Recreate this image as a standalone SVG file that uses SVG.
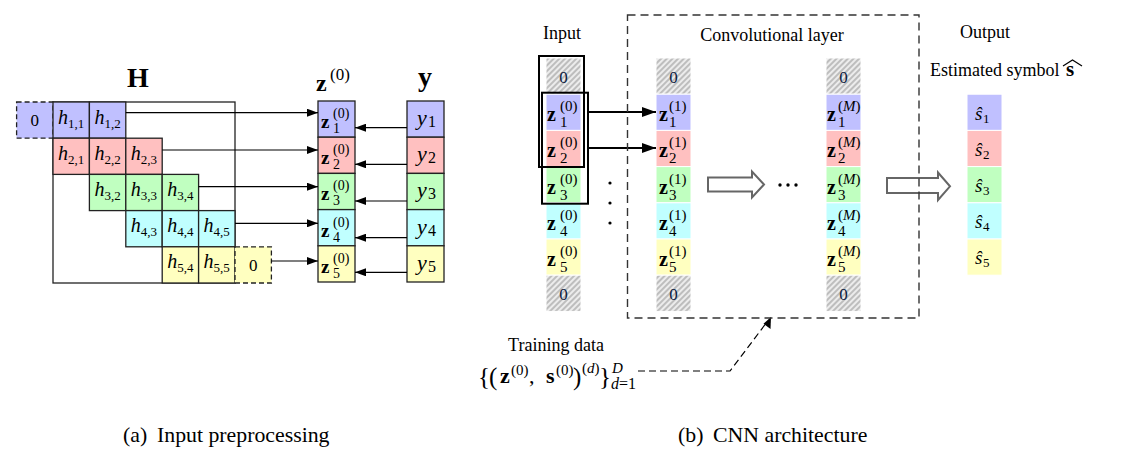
<svg xmlns="http://www.w3.org/2000/svg" width="1128" height="460" viewBox="0 0 1128 460">
<defs>
<style>
.t{font-family:"Liberation Serif","Times New Roman",serif;fill:#000}
.i{font-style:italic}
.b{font-weight:bold}
.cell{stroke:#222;stroke-width:1.3}
.dash{stroke:#222;stroke-width:1.3;stroke-dasharray:5 3}
.rc{stroke:#fff;stroke-width:1}
.c1{fill:#c0c0ff}.c2{fill:#ffc0c0}.c3{fill:#c0ffc0}.c4{fill:#c0ffff}.c5{fill:#ffffc0}
.hz{fill:url(#hatch)}
.h{font-size:20px;font-style:italic}
.sb{font-size:13px}
.zl{font-size:19px;font-weight:bold}
.zs{font-size:14px}
.zr{font-size:20px;font-weight:bold}
.zrs{font-size:15px}
.zero{font-size:17px;fill:#0a1a40}
.ar{stroke:#000;stroke-width:1.2;fill:none}
.arb{stroke:#000;stroke-width:2.2;fill:none}
.hol{fill:#fff;stroke:#666;stroke-width:2}
.lbl{font-size:18px}
.cap{font-size:21.8px}
</style>
<pattern id="hatch" width="4" height="4" patternUnits="userSpaceOnUse" patternTransform="rotate(45)">
<rect width="4" height="4" fill="#ececec"/>
<line x1="1" y1="0" x2="1" y2="4" stroke="#aaa" stroke-width="1.4"/>
</pattern>
<marker id="ah" markerWidth="11" markerHeight="8" refX="11" refY="4" orient="auto" markerUnits="userSpaceOnUse">
<path d="M0,0 L11,4 L0,8 z" fill="#000"/>
</marker>
<marker id="ahb" markerWidth="14" markerHeight="10" refX="14" refY="5" orient="auto" markerUnits="userSpaceOnUse">
<path d="M0,0 L14,5 L0,10 z" fill="#000"/>
</marker>
</defs>
<rect width="1128" height="460" fill="#fff"/>

<!-- ============ (a) Input preprocessing ============ -->
<g id="label-H"><text class="t b" x="138" y="87" font-size="28" text-anchor="middle">H</text></g>
<g id="label-z0"><text class="t b" x="316" y="91" font-size="24">z</text><text class="t" x="330" y="80" font-size="17">(0)</text></g>
<g id="label-y"><text class="t b" x="425" y="86" font-size="28" text-anchor="middle">y</text></g>

<g id="matrix-H">
<rect x="53" y="102" width="182" height="181" fill="none" class="cell"/>
<rect x="16.6" y="102" width="36.4" height="36.2" class="c1 dash"/>
<text class="t" x="34.8" y="126" font-size="17" text-anchor="middle">0</text>
<rect x="53" y="102" width="36.4" height="36.2" class="c1 cell"/>
<rect x="89.4" y="102" width="36.4" height="36.2" class="c1 cell"/>
<text class="t h" x="58" y="123.5">h</text><text class="t sb" x="68" y="127.5">1,1</text>
<text class="t h" x="94.4" y="123.5">h</text><text class="t sb" x="104.4" y="127.5">1,2</text>
<rect x="53" y="138.2" width="36.4" height="36.2" class="c2 cell"/>
<rect x="89.4" y="138.2" width="36.4" height="36.2" class="c2 cell"/>
<rect x="125.8" y="138.2" width="36.4" height="36.2" class="c2 cell"/>
<text class="t h" x="58" y="159.7">h</text><text class="t sb" x="68" y="163.7">2,1</text>
<text class="t h" x="94.4" y="159.7">h</text><text class="t sb" x="104.4" y="163.7">2,2</text>
<text class="t h" x="130.8" y="159.7">h</text><text class="t sb" x="140.8" y="163.7">2,3</text>
<rect x="89.4" y="174.4" width="36.4" height="36.2" class="c3 cell"/>
<rect x="125.8" y="174.4" width="36.4" height="36.2" class="c3 cell"/>
<rect x="162.2" y="174.4" width="36.4" height="36.2" class="c3 cell"/>
<text class="t h" x="94.4" y="195.9">h</text><text class="t sb" x="104.4" y="199.9">3,2</text>
<text class="t h" x="130.8" y="195.9">h</text><text class="t sb" x="140.8" y="199.9">3,3</text>
<text class="t h" x="167.2" y="195.9">h</text><text class="t sb" x="177.2" y="199.9">3,4</text>
<rect x="125.8" y="210.6" width="36.4" height="36.2" class="c4 cell"/>
<rect x="162.2" y="210.6" width="36.4" height="36.2" class="c4 cell"/>
<rect x="198.6" y="210.6" width="36.4" height="36.2" class="c4 cell"/>
<text class="t h" x="130.8" y="232.1">h</text><text class="t sb" x="140.8" y="236.1">4,3</text>
<text class="t h" x="167.2" y="232.1">h</text><text class="t sb" x="177.2" y="236.1">4,4</text>
<text class="t h" x="203.6" y="232.1">h</text><text class="t sb" x="213.6" y="236.1">4,5</text>
<rect x="162.2" y="246.8" width="36.4" height="36.2" class="c5 cell"/>
<rect x="198.6" y="246.8" width="36.4" height="36.2" class="c5 cell"/>
<rect x="235" y="246.8" width="36.4" height="36.2" class="c5 dash"/>
<text class="t h" x="167.2" y="268.3">h</text><text class="t sb" x="177.2" y="272.3">5,4</text>
<text class="t h" x="203.6" y="268.3">h</text><text class="t sb" x="213.6" y="272.3">5,5</text>
<text class="t" x="253.2" y="271" font-size="17" text-anchor="middle">0</text>
</g>

<g id="vector-z0">
<rect x="318" y="101" width="37" height="36.2" class="c1 cell"/>
<rect x="318" y="137.2" width="37" height="36.2" class="c2 cell"/>
<rect x="318" y="173.4" width="37" height="36.2" class="c3 cell"/>
<rect x="318" y="209.6" width="37" height="36.2" class="c4 cell"/>
<rect x="318" y="245.8" width="37" height="36.2" class="c5 cell"/>
<text class="t zl" x="321" y="128">z</text><text class="t zs" x="333" y="118">(0)</text><text class="t zs" x="333" y="133">1</text>
<text class="t zl" x="321" y="164.2">z</text><text class="t zs" x="333" y="154.2">(0)</text><text class="t zs" x="333" y="169.2">2</text>
<text class="t zl" x="321" y="200.4">z</text><text class="t zs" x="333" y="190.4">(0)</text><text class="t zs" x="333" y="205.4">3</text>
<text class="t zl" x="321" y="236.6">z</text><text class="t zs" x="333" y="226.6">(0)</text><text class="t zs" x="333" y="241.6">4</text>
<text class="t zl" x="321" y="272.8">z</text><text class="t zs" x="333" y="262.8">(0)</text><text class="t zs" x="333" y="277.8">5</text>
</g>

<g id="vector-y">
<rect x="407" y="101" width="37" height="36.2" class="c1 cell"/>
<rect x="407" y="137.2" width="37" height="36.2" class="c2 cell"/>
<rect x="407" y="173.4" width="37" height="36.2" class="c3 cell"/>
<rect x="407" y="209.6" width="37" height="36.2" class="c4 cell"/>
<rect x="407" y="245.8" width="37" height="36.2" class="c5 cell"/>
<text class="t i" x="417" y="125" font-size="22">y</text><text class="t" x="428" y="127" font-size="16">1</text>
<text class="t i" x="417" y="161.2" font-size="22">y</text><text class="t" x="428" y="163.2" font-size="16">2</text>
<text class="t i" x="417" y="197.4" font-size="22">y</text><text class="t" x="428" y="199.4" font-size="16">3</text>
<text class="t i" x="417" y="233.6" font-size="22">y</text><text class="t" x="428" y="235.6" font-size="16">4</text>
<text class="t i" x="417" y="269.8" font-size="22">y</text><text class="t" x="428" y="271.8" font-size="16">5</text>
</g>

<!-- ============ (b) CNN architecture ============ -->
<g id="label-input"><text class="t lbl" x="562" y="39" text-anchor="middle">Input</text></g>
<g id="label-conv"><text class="t lbl" x="772" y="41" text-anchor="middle">Convolutional layer</text></g>
<g id="label-output"><text class="t lbl" x="985" y="38" text-anchor="middle">Output</text>
<text class="t lbl" x="930" y="76">Estimated symbol</text>
<text class="t b" x="1066" y="76" font-size="21">s</text>
<polyline points="1063,66 1072.5,60 1082,66" fill="none" stroke="#000" stroke-width="1.2"/>
</g>

<g id="input-column">
<rect x="546" y="58" width="35" height="36.2" class="hz rc"/>
<rect x="546" y="94.2" width="35" height="36.2" class="c1 rc"/>
<rect x="546" y="130.4" width="35" height="36.2" class="c2 rc"/>
<rect x="546" y="166.6" width="35" height="36.2" class="c3 rc"/>
<rect x="546" y="202.8" width="35" height="36.2" class="c4 rc"/>
<rect x="546" y="239" width="35" height="36.2" class="c5 rc"/>
<rect x="546" y="275.2" width="35" height="36.2" class="hz rc"/>
<text class="t zero" x="563.5" y="83" text-anchor="middle">0</text>
<text class="t zero" x="563.5" y="300.2" text-anchor="middle">0</text>
<text class="t zr" x="547" y="121.2">z</text><text class="t zrs" x="560" y="111.2">(0)</text><text class="t zrs" x="560" y="127.2">1</text>
<text class="t zr" x="547" y="157.4">z</text><text class="t zrs" x="560" y="147.4">(0)</text><text class="t zrs" x="560" y="163.4">2</text>
<text class="t zr" x="547" y="193.6">z</text><text class="t zrs" x="560" y="183.6">(0)</text><text class="t zrs" x="560" y="199.6">3</text>
<text class="t zr" x="547" y="229.8">z</text><text class="t zrs" x="560" y="219.8">(0)</text><text class="t zrs" x="560" y="235.8">4</text>
<text class="t zr" x="547" y="266">z</text><text class="t zrs" x="560" y="256">(0)</text><text class="t zrs" x="560" y="272">5</text>
<rect x="539" y="56" width="45" height="111" fill="none" stroke="#000" stroke-width="2"/>
<rect x="542" y="92.7" width="46" height="111" fill="none" stroke="#000" stroke-width="2"/>
<circle cx="610" cy="183" r="1.6" fill="#000"/>
<circle cx="610" cy="203" r="1.6" fill="#000"/>
<circle cx="610" cy="223" r="1.6" fill="#000"/>
</g>

<g id="layer-1">
<rect x="656" y="58" width="35" height="36.2" class="hz rc"/>
<rect x="656" y="94.2" width="35" height="36.2" class="c1 rc"/>
<rect x="656" y="130.4" width="35" height="36.2" class="c2 rc"/>
<rect x="656" y="166.6" width="35" height="36.2" class="c3 rc"/>
<rect x="656" y="202.8" width="35" height="36.2" class="c4 rc"/>
<rect x="656" y="239" width="35" height="36.2" class="c5 rc"/>
<rect x="656" y="275.2" width="35" height="36.2" class="hz rc"/>
<text class="t zero" x="673.5" y="83" text-anchor="middle">0</text>
<text class="t zero" x="673.5" y="300.2" text-anchor="middle">0</text>
<text class="t zr" x="659" y="121.2">z</text><text class="t zrs" x="669" y="111.2">(1)</text><text class="t zrs" x="669" y="127.2">1</text>
<text class="t zr" x="659" y="157.4">z</text><text class="t zrs" x="669" y="147.4">(1)</text><text class="t zrs" x="669" y="163.4">2</text>
<text class="t zr" x="659" y="193.6">z</text><text class="t zrs" x="669" y="183.6">(1)</text><text class="t zrs" x="669" y="199.6">3</text>
<text class="t zr" x="659" y="229.8">z</text><text class="t zrs" x="669" y="219.8">(1)</text><text class="t zrs" x="669" y="235.8">4</text>
<text class="t zr" x="659" y="266">z</text><text class="t zrs" x="669" y="256">(1)</text><text class="t zrs" x="669" y="272">5</text>
</g>

<g id="ellipsis">
<circle cx="780" cy="185" r="1.7" fill="#000"/>
<circle cx="788" cy="185" r="1.7" fill="#000"/>
<circle cx="796" cy="185" r="1.7" fill="#000"/>
</g>

<g id="layer-M">
<rect x="826" y="58" width="35" height="36.2" class="hz rc"/>
<rect x="826" y="94.2" width="35" height="36.2" class="c1 rc"/>
<rect x="826" y="130.4" width="35" height="36.2" class="c2 rc"/>
<rect x="826" y="166.6" width="35" height="36.2" class="c3 rc"/>
<rect x="826" y="202.8" width="35" height="36.2" class="c4 rc"/>
<rect x="826" y="239" width="35" height="36.2" class="c5 rc"/>
<rect x="826" y="275.2" width="35" height="36.2" class="hz rc"/>
<text class="t zero" x="843.5" y="83" text-anchor="middle">0</text>
<text class="t zero" x="843.5" y="300.2" text-anchor="middle">0</text>
<text class="t zr" x="827" y="121.2">z</text><text class="t zrs" x="838" y="111.2">(<tspan class="i">M</tspan>)</text><text class="t zrs" x="838" y="127.2">1</text>
<text class="t zr" x="827" y="157.4">z</text><text class="t zrs" x="838" y="147.4">(<tspan class="i">M</tspan>)</text><text class="t zrs" x="838" y="163.4">2</text>
<text class="t zr" x="827" y="193.6">z</text><text class="t zrs" x="838" y="183.6">(<tspan class="i">M</tspan>)</text><text class="t zrs" x="838" y="199.6">3</text>
<text class="t zr" x="827" y="229.8">z</text><text class="t zrs" x="838" y="219.8">(<tspan class="i">M</tspan>)</text><text class="t zrs" x="838" y="235.8">4</text>
<text class="t zr" x="827" y="266">z</text><text class="t zrs" x="838" y="256">(<tspan class="i">M</tspan>)</text><text class="t zrs" x="838" y="272">5</text>
</g>

<g id="output-column">
<rect x="967" y="94.2" width="35" height="36.2" class="c1 rc"/>
<rect x="967" y="130.4" width="35" height="36.2" class="c2 rc"/>
<rect x="967" y="166.6" width="35" height="36.2" class="c3 rc"/>
<rect x="967" y="202.8" width="35" height="36.2" class="c4 rc"/>
<rect x="967" y="239" width="35" height="36.2" class="c5 rc"/>
<text class="t i" x="975" y="119.5" font-size="19">ŝ</text><text class="t" x="983" y="122.5" font-size="13">1</text>
<text class="t i" x="975" y="155.7" font-size="19">ŝ</text><text class="t" x="983" y="158.7" font-size="13">2</text>
<text class="t i" x="975" y="191.9" font-size="19">ŝ</text><text class="t" x="983" y="194.9" font-size="13">3</text>
<text class="t i" x="975" y="228.1" font-size="19">ŝ</text><text class="t" x="983" y="231.1" font-size="13">4</text>
<text class="t i" x="975" y="264.3" font-size="19">ŝ</text><text class="t" x="983" y="267.3" font-size="13">5</text>
</g>

<g id="training-data">
<text class="t lbl" x="556" y="351" text-anchor="middle">Training data</text>
<text class="t" x="478" y="385" font-size="25">{</text>
<text class="t" x="489" y="385" font-size="25">(</text>
<text class="t b" x="500" y="383" font-size="22">z</text>
<text class="t" x="511" y="375" font-size="15">(0)</text>
<text class="t" x="529" y="383" font-size="22">,</text>
<text class="t b" x="546" y="383" font-size="22">s</text>
<text class="t" x="556" y="375" font-size="15">(0)</text>
<text class="t" x="573" y="385" font-size="25">)</text>
<text class="t" x="582" y="373" font-size="15">(<tspan class="i">d</tspan>)</text>
<text class="t" x="599" y="385" font-size="25">}</text>
<text class="t i" x="612" y="373" font-size="15">D</text>
<text class="t" x="611" y="389" font-size="16"><tspan class="i">d</tspan>=1</text>
</g>

<g id="connectors">
<line x1="125.8" y1="112.7" x2="318" y2="112.7" class="ar" marker-end="url(#ah)"/>
<line x1="162.2" y1="150" x2="318" y2="150" class="ar" marker-end="url(#ah)"/>
<line x1="198.6" y1="186.7" x2="318" y2="186.7" class="ar" marker-end="url(#ah)"/>
<line x1="235" y1="223.3" x2="318" y2="223.3" class="ar" marker-end="url(#ah)"/>
<line x1="271.4" y1="261" x2="318" y2="261" class="ar" marker-end="url(#ah)"/>
<line x1="407" y1="127.7" x2="355" y2="127.7" class="ar" marker-end="url(#ah)"/>
<line x1="407" y1="164.3" x2="355" y2="164.3" class="ar" marker-end="url(#ah)"/>
<line x1="407" y1="201" x2="355" y2="201" class="ar" marker-end="url(#ah)"/>
<line x1="407" y1="237.7" x2="355" y2="237.7" class="ar" marker-end="url(#ah)"/>
<line x1="407" y1="272.3" x2="355" y2="272.3" class="ar" marker-end="url(#ah)"/>
<line x1="588" y1="112" x2="656" y2="112" class="arb" marker-end="url(#ahb)"/>
<line x1="588" y1="148" x2="656" y2="148" class="arb" marker-end="url(#ahb)"/>
<polygon class="hol" points="708,177.5 752,177.5 752,171.5 764,184.5 752,197.5 752,191.5 708,191.5"/>
<polygon class="hol" points="887,178 938,178 938,172.5 950,186.3 938,200 938,193 887,193"/>
<path d="M638,371 H730 L767,322" fill="none" stroke="#000" stroke-width="1.2" stroke-dasharray="7 4"/>
<path d="M771,317 L770.5,329 L763.5,323.7 z" fill="#000"/>
</g>

<g id="conv-box">
<rect x="627.5" y="15" width="291.5" height="303" fill="none" stroke="#333" stroke-width="1.4" stroke-dasharray="8 5"/>
</g>

<g id="captions">
<text class="t cap" x="123" y="442">(a)</text>
<text class="t cap" x="157" y="442">Input preprocessing</text>
<text class="t cap" x="678" y="442">(b)</text>
<text class="t cap" x="713" y="442">CNN architecture</text>
</g>
</svg>
